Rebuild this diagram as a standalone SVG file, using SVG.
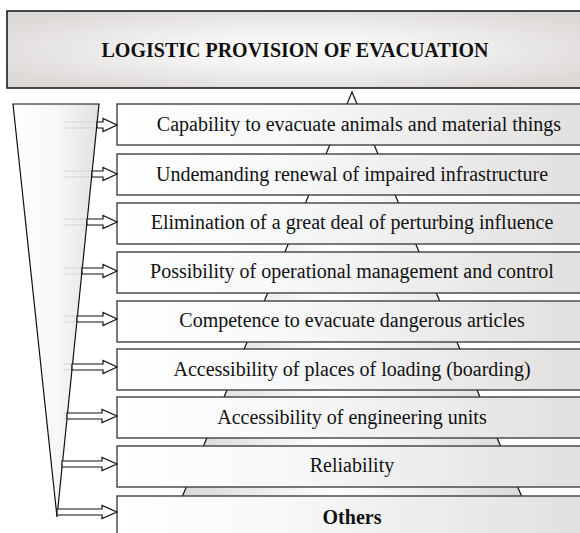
<svg xmlns="http://www.w3.org/2000/svg" width="580" height="533" viewBox="0 0 580 533">
<defs>
<radialGradient id="hdrG" cx="0.5" cy="0.5" r="0.6">
<stop offset="0" stop-color="#ffffff"/>
<stop offset="0.5" stop-color="#f0eeed"/>
<stop offset="1" stop-color="#dcd9d7"/>
</radialGradient>
<linearGradient id="boxG" x1="0" y1="0" x2="1" y2="0">
<stop offset="0" stop-color="#ffffff"/>
<stop offset="0.35" stop-color="#f7f8fa"/>
<stop offset="1" stop-color="#e2e0de"/>
</linearGradient>
<linearGradient id="triG" x1="0" y1="0" x2="1" y2="0">
<stop offset="0" stop-color="#d6d4d2"/>
<stop offset="0.45" stop-color="#ffffff"/>
<stop offset="1" stop-color="#d9d7d5"/>
</linearGradient>
<linearGradient id="funG" x1="0" y1="0" x2="1" y2="0">
<stop offset="0" stop-color="#ffffff"/>
<stop offset="0.5" stop-color="#f7f7f7"/>
<stop offset="1" stop-color="#e4e2e0"/>
</linearGradient>
</defs>
<style>
.box{fill:url(#boxG);stroke:#333;stroke-width:1.3}
.lbl{font-family:"Liberation Serif","Times New Roman",serif;font-size:20px;fill:#111;text-anchor:middle}
.bold{font-weight:bold}
.arr{fill:#fff;stroke:#111;stroke-width:1.2;stroke-linejoin:miter}
.dot{stroke:#b0b0b0;stroke-width:0.8;stroke-dasharray:1 1;fill:none}
</style>

<g id="pyramid">
<polygon points="352,92 537,533 167,533" fill="url(#triG)" stroke="#111" stroke-width="1.2"/>
</g>

<g id="header">
<rect x="7" y="11" width="580" height="77" fill="url(#hdrG)" stroke="#111" stroke-width="1.5"/>
<text class="lbl bold" x="295" y="57" font-size="19">LOGISTIC PROVISION OF EVACUATION</text>
</g>

<g id="funnel">
<polygon points="13,104 99,104 57,517" fill="url(#funG)" stroke="#111" stroke-width="1.2"/>
</g>

<g id="n1"><rect class="box" x="117" y="104" width="470" height="41"/><text class="lbl" x="359" y="131" font-size="20.8">Capability to evacuate animals and material things</text></g>
<g id="n2"><rect class="box" x="117" y="154" width="470" height="41"/><text class="lbl" x="352" y="181">Undemanding renewal of impaired infrastructure</text></g>
<g id="n3"><rect class="box" x="117" y="203" width="470" height="41"/><text class="lbl" x="352" y="229">Elimination of a great deal of perturbing influence</text></g>
<g id="n4"><rect class="box" x="117" y="252" width="470" height="41"/><text class="lbl" x="352" y="278">Possibility of operational management and control</text></g>
<g id="n5"><rect class="box" x="117" y="301" width="470" height="41"/><text class="lbl" x="352" y="327">Competence to evacuate dangerous articles</text></g>
<g id="n6"><rect class="box" x="117" y="349" width="470" height="41"/><text class="lbl" x="352" y="376">Accessibility of places of loading (boarding)</text></g>
<g id="n7"><rect class="box" x="117" y="397" width="470" height="41"/><text class="lbl" x="352" y="424">Accessibility of engineering units</text></g>
<g id="n8"><rect class="box" x="117" y="446" width="470" height="41"/><text class="lbl" x="352" y="472">Reliability</text></g>
<g id="n9"><rect class="box" x="117" y="496" width="470" height="45"/><text class="lbl bold" x="352" y="524">Others</text></g>

<g id="connectors">
<line class="dot" x1="64" y1="122" x2="96" y2="122"/><line class="dot" x1="64" y1="128" x2="96" y2="128"/>
<line class="dot" x1="64" y1="171" x2="91" y2="171"/><line class="dot" x1="64" y1="177" x2="91" y2="177"/>
<line class="dot" x1="64" y1="219" x2="86" y2="219"/><line class="dot" x1="64" y1="225" x2="86" y2="225"/>
<line class="dot" x1="64" y1="268" x2="81" y2="268"/><line class="dot" x1="64" y1="274" x2="81" y2="274"/>
<line class="dot" x1="64" y1="316" x2="77" y2="316"/><line class="dot" x1="64" y1="322" x2="77" y2="322"/>
<line class="dot" x1="64" y1="364" x2="72" y2="364"/><line class="dot" x1="64" y1="370" x2="72" y2="370"/>
<line class="dot" x1="64" y1="413" x2="67" y2="413"/><line class="dot" x1="64" y1="419" x2="67" y2="419"/>
<polygon class="arr" points="97,122 103,122 103,118.5 117,125 103,131.5 103,128 97,128"/>
<polygon class="arr" points="92,171 103,171 103,167.5 117,174 103,180.5 103,177 92,177"/>
<polygon class="arr" points="87,219 103,219 103,215.5 117,222 103,228.5 103,225 87,225"/>
<polygon class="arr" points="82,268 103,268 103,264.5 117,271 103,277.5 103,274 82,274"/>
<polygon class="arr" points="77,316 103,316 103,312.5 117,319 103,325.5 103,322 77,322"/>
<polygon class="arr" points="72,364 103,364 103,360.5 117,367 103,373.5 103,370 72,370"/>
<polygon class="arr" points="67,413 102,413 102,409.5 117,416 102,422.5 102,419 67,419"/>
<polygon class="arr" points="62,461 102,461 102,457.5 117,464 102,470.5 102,467 62,467"/>
<polygon class="arr" points="57,509 102,509 102,505.5 117,512 102,518.5 102,515 57,515"/>
</g>
</svg>
